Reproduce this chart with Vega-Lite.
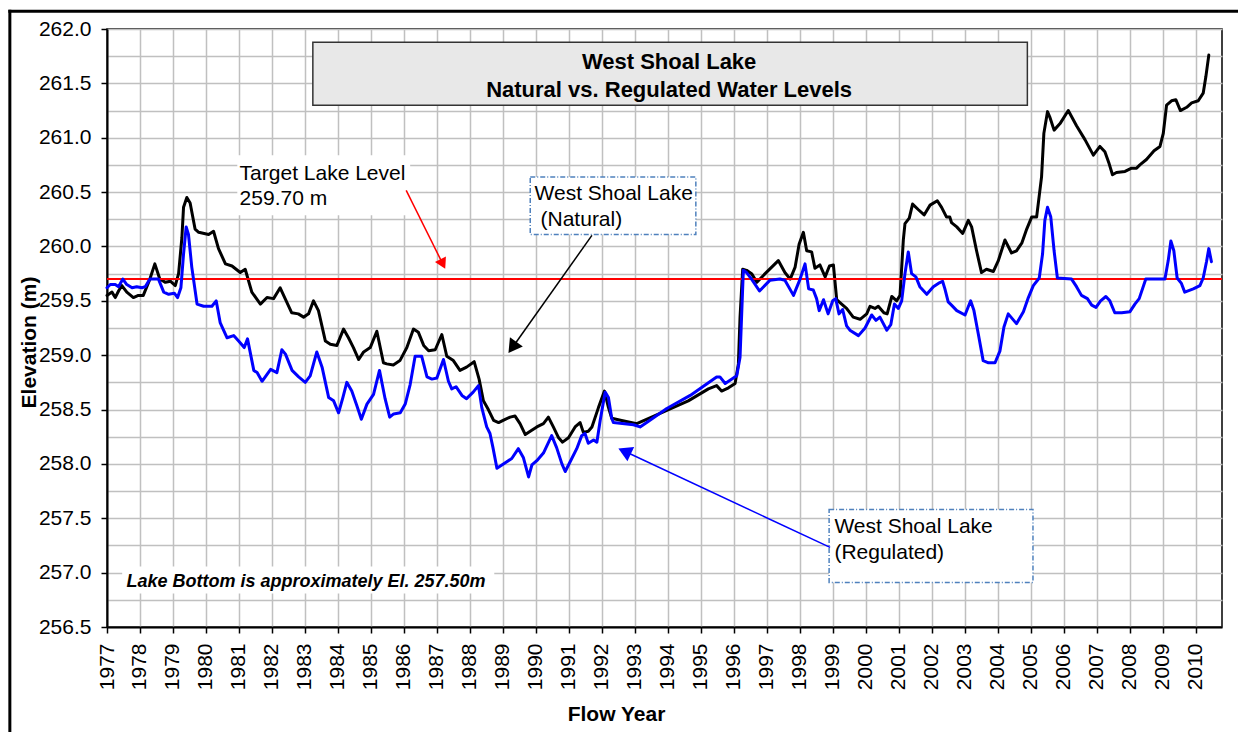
{
  "$schema": "https://vega.github.io/schema/vega-lite/v6.json",
  "width": 1115,
  "height": 598,
  "autosize": {"type": "none"},
  "padding": {"left": 107, "top": 29, "right": 16, "bottom": 105},
  "background": "white",
  "config": {"view": {"stroke": "#000000", "strokeWidth": 1.5}, "font": "Liberation Sans"},
  "datasets": {
    "natural": [
      {"year": 1977.00, "elev": 259.55}, {"year": 1977.15, "elev": 259.58}, {"year": 1977.25, "elev": 259.53}, {"year": 1977.35, "elev": 259.59},
      {"year": 1977.45, "elev": 259.64}, {"year": 1977.60, "elev": 259.58}, {"year": 1977.80, "elev": 259.53}, {"year": 1977.95, "elev": 259.55},
      {"year": 1978.10, "elev": 259.55}, {"year": 1978.30, "elev": 259.70}, {"year": 1978.45, "elev": 259.84}, {"year": 1978.60, "elev": 259.70},
      {"year": 1978.77, "elev": 259.67}, {"year": 1978.92, "elev": 259.68}, {"year": 1979.07, "elev": 259.64}, {"year": 1979.17, "elev": 259.75},
      {"year": 1979.27, "elev": 260.08}, {"year": 1979.32, "elev": 260.36}, {"year": 1979.42, "elev": 260.45}, {"year": 1979.52, "elev": 260.40},
      {"year": 1979.67, "elev": 260.16}, {"year": 1979.78, "elev": 260.13}, {"year": 1980.08, "elev": 260.11}, {"year": 1980.23, "elev": 260.14},
      {"year": 1980.38, "elev": 259.98}, {"year": 1980.59, "elev": 259.84}, {"year": 1980.79, "elev": 259.82}, {"year": 1981.04, "elev": 259.76},
      {"year": 1981.19, "elev": 259.79}, {"year": 1981.39, "elev": 259.58}, {"year": 1981.65, "elev": 259.47}, {"year": 1981.85, "elev": 259.53},
      {"year": 1982.05, "elev": 259.52}, {"year": 1982.25, "elev": 259.62}, {"year": 1982.40, "elev": 259.52}, {"year": 1982.60, "elev": 259.39},
      {"year": 1982.80, "elev": 259.38}, {"year": 1982.96, "elev": 259.35}, {"year": 1983.11, "elev": 259.38}, {"year": 1983.26, "elev": 259.50},
      {"year": 1983.41, "elev": 259.41}, {"year": 1983.62, "elev": 259.13}, {"year": 1983.77, "elev": 259.10}, {"year": 1983.97, "elev": 259.09},
      {"year": 1984.17, "elev": 259.24}, {"year": 1984.32, "elev": 259.16}, {"year": 1984.47, "elev": 259.07}, {"year": 1984.63, "elev": 258.96},
      {"year": 1984.78, "elev": 259.03}, {"year": 1984.98, "elev": 259.07}, {"year": 1985.18, "elev": 259.22}, {"year": 1985.38, "elev": 258.93},
      {"year": 1985.48, "elev": 258.92}, {"year": 1985.68, "elev": 258.91}, {"year": 1985.88, "elev": 258.95}, {"year": 1986.09, "elev": 259.07},
      {"year": 1986.29, "elev": 259.24}, {"year": 1986.44, "elev": 259.21}, {"year": 1986.60, "elev": 259.09}, {"year": 1986.75, "elev": 259.04},
      {"year": 1986.95, "elev": 259.05}, {"year": 1987.15, "elev": 259.19}, {"year": 1987.30, "elev": 258.99}, {"year": 1987.50, "elev": 258.95},
      {"year": 1987.70, "elev": 258.86}, {"year": 1987.90, "elev": 258.89}, {"year": 1988.13, "elev": 258.94}, {"year": 1988.28, "elev": 258.78},
      {"year": 1988.41, "elev": 258.58}, {"year": 1988.56, "elev": 258.50}, {"year": 1988.72, "elev": 258.40}, {"year": 1988.87, "elev": 258.38},
      {"year": 1989.07, "elev": 258.41}, {"year": 1989.22, "elev": 258.43}, {"year": 1989.37, "elev": 258.44}, {"year": 1989.52, "elev": 258.37},
      {"year": 1989.68, "elev": 258.27}, {"year": 1989.83, "elev": 258.30}, {"year": 1990.03, "elev": 258.34}, {"year": 1990.23, "elev": 258.37},
      {"year": 1990.38, "elev": 258.43}, {"year": 1990.53, "elev": 258.34}, {"year": 1990.69, "elev": 258.24}, {"year": 1990.81, "elev": 258.20},
      {"year": 1990.99, "elev": 258.24}, {"year": 1991.19, "elev": 258.34}, {"year": 1991.34, "elev": 258.38}, {"year": 1991.44, "elev": 258.29},
      {"year": 1991.59, "elev": 258.30}, {"year": 1991.70, "elev": 258.34}, {"year": 1991.90, "elev": 258.52}, {"year": 1992.08, "elev": 258.67},
      {"year": 1992.20, "elev": 258.52}, {"year": 1992.30, "elev": 258.42}, {"year": 1992.60, "elev": 258.40}, {"year": 1993.06, "elev": 258.37},
      {"year": 1993.51, "elev": 258.43}, {"year": 1994.02, "elev": 258.50}, {"year": 1994.62, "elev": 258.58}, {"year": 1995.23, "elev": 258.69},
      {"year": 1995.48, "elev": 258.72}, {"year": 1995.63, "elev": 258.67}, {"year": 1995.84, "elev": 258.70}, {"year": 1996.04, "elev": 258.74},
      {"year": 1996.14, "elev": 258.92}, {"year": 1996.19, "elev": 259.35}, {"year": 1996.27, "elev": 259.79}, {"year": 1996.39, "elev": 259.78},
      {"year": 1996.54, "elev": 259.75}, {"year": 1996.70, "elev": 259.67}, {"year": 1996.95, "elev": 259.75}, {"year": 1997.35, "elev": 259.87},
      {"year": 1997.55, "elev": 259.76}, {"year": 1997.71, "elev": 259.70}, {"year": 1997.86, "elev": 259.81}, {"year": 1997.98, "elev": 260.02},
      {"year": 1998.11, "elev": 260.13}, {"year": 1998.21, "elev": 259.96}, {"year": 1998.36, "elev": 259.95}, {"year": 1998.46, "elev": 259.80},
      {"year": 1998.61, "elev": 259.83}, {"year": 1998.77, "elev": 259.72}, {"year": 1998.90, "elev": 259.82}, {"year": 1999.02, "elev": 259.83},
      {"year": 1999.12, "elev": 259.51}, {"year": 1999.27, "elev": 259.47}, {"year": 1999.42, "elev": 259.43}, {"year": 1999.62, "elev": 259.35},
      {"year": 1999.83, "elev": 259.33}, {"year": 2000.03, "elev": 259.38}, {"year": 2000.13, "elev": 259.45}, {"year": 2000.28, "elev": 259.43},
      {"year": 2000.38, "elev": 259.45}, {"year": 2000.55, "elev": 259.39}, {"year": 2000.65, "elev": 259.38}, {"year": 2000.79, "elev": 259.54},
      {"year": 2000.94, "elev": 259.50}, {"year": 2001.04, "elev": 259.55}, {"year": 2001.14, "elev": 260.06}, {"year": 2001.19, "elev": 260.21},
      {"year": 2001.32, "elev": 260.26}, {"year": 2001.42, "elev": 260.39}, {"year": 2001.59, "elev": 260.34}, {"year": 2001.77, "elev": 260.29},
      {"year": 2001.95, "elev": 260.38}, {"year": 2002.17, "elev": 260.42}, {"year": 2002.30, "elev": 260.36}, {"year": 2002.45, "elev": 260.27},
      {"year": 2002.55, "elev": 260.27}, {"year": 2002.60, "elev": 260.22}, {"year": 2002.76, "elev": 260.18}, {"year": 2002.94, "elev": 260.12},
      {"year": 2003.11, "elev": 260.24}, {"year": 2003.21, "elev": 260.18}, {"year": 2003.36, "elev": 259.96}, {"year": 2003.51, "elev": 259.76},
      {"year": 2003.66, "elev": 259.79}, {"year": 2003.87, "elev": 259.77}, {"year": 2004.02, "elev": 259.87}, {"year": 2004.22, "elev": 260.06},
      {"year": 2004.42, "elev": 259.94}, {"year": 2004.57, "elev": 259.96}, {"year": 2004.73, "elev": 260.03}, {"year": 2004.88, "elev": 260.16},
      {"year": 2005.03, "elev": 260.27}, {"year": 2005.18, "elev": 260.27}, {"year": 2005.33, "elev": 260.64}, {"year": 2005.40, "elev": 261.04},
      {"year": 2005.51, "elev": 261.24}, {"year": 2005.58, "elev": 261.19}, {"year": 2005.71, "elev": 261.07}, {"year": 2005.89, "elev": 261.13},
      {"year": 2006.14, "elev": 261.25}, {"year": 2006.39, "elev": 261.11}, {"year": 2006.65, "elev": 260.98}, {"year": 2006.90, "elev": 260.84},
      {"year": 2007.10, "elev": 260.92}, {"year": 2007.25, "elev": 260.87}, {"year": 2007.38, "elev": 260.76}, {"year": 2007.48, "elev": 260.66},
      {"year": 2007.60, "elev": 260.68}, {"year": 2007.86, "elev": 260.69}, {"year": 2008.06, "elev": 260.72}, {"year": 2008.21, "elev": 260.72},
      {"year": 2008.31, "elev": 260.75}, {"year": 2008.51, "elev": 260.80}, {"year": 2008.74, "elev": 260.88}, {"year": 2008.92, "elev": 260.92},
      {"year": 2009.02, "elev": 261.04}, {"year": 2009.12, "elev": 261.30}, {"year": 2009.27, "elev": 261.34}, {"year": 2009.40, "elev": 261.35},
      {"year": 2009.54, "elev": 261.25}, {"year": 2009.73, "elev": 261.28}, {"year": 2009.88, "elev": 261.32}, {"year": 2010.08, "elev": 261.34},
      {"year": 2010.23, "elev": 261.41}, {"year": 2010.31, "elev": 261.56}, {"year": 2010.40, "elev": 261.76}
    ],
    "regulated": [
      {"year": 1977.00, "elev": 259.62}, {"year": 1977.10, "elev": 259.65}, {"year": 1977.25, "elev": 259.65}, {"year": 1977.35, "elev": 259.63},
      {"year": 1977.48, "elev": 259.70}, {"year": 1977.60, "elev": 259.65}, {"year": 1977.76, "elev": 259.62}, {"year": 1977.90, "elev": 259.63},
      {"year": 1978.06, "elev": 259.62}, {"year": 1978.16, "elev": 259.63}, {"year": 1978.30, "elev": 259.70}, {"year": 1978.56, "elev": 259.70},
      {"year": 1978.72, "elev": 259.58}, {"year": 1978.87, "elev": 259.56}, {"year": 1979.04, "elev": 259.57}, {"year": 1979.14, "elev": 259.53},
      {"year": 1979.24, "elev": 259.62}, {"year": 1979.32, "elev": 259.93}, {"year": 1979.40, "elev": 260.18}, {"year": 1979.47, "elev": 260.11},
      {"year": 1979.57, "elev": 259.81}, {"year": 1979.73, "elev": 259.47}, {"year": 1979.93, "elev": 259.45}, {"year": 1980.18, "elev": 259.45},
      {"year": 1980.31, "elev": 259.50}, {"year": 1980.43, "elev": 259.30}, {"year": 1980.64, "elev": 259.16}, {"year": 1980.84, "elev": 259.18},
      {"year": 1980.99, "elev": 259.13}, {"year": 1981.16, "elev": 259.07}, {"year": 1981.26, "elev": 259.15}, {"year": 1981.45, "elev": 258.86},
      {"year": 1981.55, "elev": 258.84}, {"year": 1981.70, "elev": 258.76}, {"year": 1981.96, "elev": 258.87}, {"year": 1982.15, "elev": 258.84},
      {"year": 1982.30, "elev": 259.05}, {"year": 1982.41, "elev": 259.01}, {"year": 1982.61, "elev": 258.86}, {"year": 1982.81, "elev": 258.80},
      {"year": 1983.01, "elev": 258.75}, {"year": 1983.16, "elev": 258.81}, {"year": 1983.36, "elev": 259.03}, {"year": 1983.52, "elev": 258.89},
      {"year": 1983.72, "elev": 258.61}, {"year": 1983.87, "elev": 258.58}, {"year": 1984.02, "elev": 258.47}, {"year": 1984.15, "elev": 258.61},
      {"year": 1984.27, "elev": 258.75}, {"year": 1984.42, "elev": 258.67}, {"year": 1984.57, "elev": 258.54}, {"year": 1984.71, "elev": 258.41},
      {"year": 1984.88, "elev": 258.55}, {"year": 1985.08, "elev": 258.64}, {"year": 1985.26, "elev": 258.86}, {"year": 1985.43, "elev": 258.60},
      {"year": 1985.57, "elev": 258.43}, {"year": 1985.69, "elev": 258.46}, {"year": 1985.89, "elev": 258.47}, {"year": 1986.04, "elev": 258.55},
      {"year": 1986.19, "elev": 258.73}, {"year": 1986.34, "elev": 258.99}, {"year": 1986.54, "elev": 258.99}, {"year": 1986.70, "elev": 258.80},
      {"year": 1986.85, "elev": 258.78}, {"year": 1987.00, "elev": 258.79}, {"year": 1987.20, "elev": 258.96}, {"year": 1987.35, "elev": 258.76},
      {"year": 1987.45, "elev": 258.69}, {"year": 1987.58, "elev": 258.71}, {"year": 1987.76, "elev": 258.63}, {"year": 1987.90, "elev": 258.60},
      {"year": 1988.10, "elev": 258.66}, {"year": 1988.26, "elev": 258.72}, {"year": 1988.36, "elev": 258.52}, {"year": 1988.51, "elev": 258.34},
      {"year": 1988.61, "elev": 258.28}, {"year": 1988.70, "elev": 258.15}, {"year": 1988.82, "elev": 257.96}, {"year": 1988.97, "elev": 257.99},
      {"year": 1989.12, "elev": 258.02}, {"year": 1989.27, "elev": 258.05}, {"year": 1989.47, "elev": 258.14}, {"year": 1989.62, "elev": 258.06},
      {"year": 1989.78, "elev": 257.88}, {"year": 1989.88, "elev": 257.99}, {"year": 1990.03, "elev": 258.03}, {"year": 1990.23, "elev": 258.10},
      {"year": 1990.48, "elev": 258.26}, {"year": 1990.63, "elev": 258.15}, {"year": 1990.79, "elev": 258.00}, {"year": 1990.89, "elev": 257.93},
      {"year": 1991.04, "elev": 258.02}, {"year": 1991.24, "elev": 258.14}, {"year": 1991.39, "elev": 258.26}, {"year": 1991.49, "elev": 258.28},
      {"year": 1991.59, "elev": 258.19}, {"year": 1991.75, "elev": 258.22}, {"year": 1991.85, "elev": 258.20}, {"year": 1991.95, "elev": 258.40},
      {"year": 1992.10, "elev": 258.66}, {"year": 1992.20, "elev": 258.61}, {"year": 1992.30, "elev": 258.42}, {"year": 1992.35, "elev": 258.38},
      {"year": 1992.96, "elev": 258.36}, {"year": 1993.16, "elev": 258.34}, {"year": 1993.36, "elev": 258.38}, {"year": 1993.97, "elev": 258.51},
      {"year": 1994.68, "elev": 258.63}, {"year": 1995.48, "elev": 258.80}, {"year": 1995.58, "elev": 258.80}, {"year": 1995.74, "elev": 258.74},
      {"year": 1996.09, "elev": 258.81}, {"year": 1996.19, "elev": 258.98}, {"year": 1996.29, "elev": 259.78}, {"year": 1996.39, "elev": 259.76},
      {"year": 1996.54, "elev": 259.70}, {"year": 1996.78, "elev": 259.59}, {"year": 1997.10, "elev": 259.69}, {"year": 1997.40, "elev": 259.70},
      {"year": 1997.55, "elev": 259.69}, {"year": 1997.81, "elev": 259.55}, {"year": 1998.01, "elev": 259.70}, {"year": 1998.16, "elev": 259.84},
      {"year": 1998.27, "elev": 259.61}, {"year": 1998.41, "elev": 259.60}, {"year": 1998.51, "elev": 259.52}, {"year": 1998.59, "elev": 259.41},
      {"year": 1998.72, "elev": 259.51}, {"year": 1998.86, "elev": 259.38}, {"year": 1999.00, "elev": 259.50}, {"year": 1999.09, "elev": 259.52},
      {"year": 1999.19, "elev": 259.38}, {"year": 1999.30, "elev": 259.42}, {"year": 1999.42, "elev": 259.27}, {"year": 1999.52, "elev": 259.23},
      {"year": 1999.78, "elev": 259.18}, {"year": 1999.98, "elev": 259.25}, {"year": 2000.18, "elev": 259.37}, {"year": 2000.31, "elev": 259.32},
      {"year": 2000.43, "elev": 259.35}, {"year": 2000.64, "elev": 259.23}, {"year": 2000.76, "elev": 259.28}, {"year": 2000.87, "elev": 259.47},
      {"year": 2000.99, "elev": 259.43}, {"year": 2001.09, "elev": 259.50}, {"year": 2001.19, "elev": 259.75}, {"year": 2001.29, "elev": 259.95},
      {"year": 2001.39, "elev": 259.75}, {"year": 2001.52, "elev": 259.72}, {"year": 2001.64, "elev": 259.63}, {"year": 2001.85, "elev": 259.56},
      {"year": 2002.05, "elev": 259.63}, {"year": 2002.20, "elev": 259.66}, {"year": 2002.33, "elev": 259.68}, {"year": 2002.40, "elev": 259.61},
      {"year": 2002.50, "elev": 259.49}, {"year": 2002.60, "elev": 259.46}, {"year": 2002.76, "elev": 259.41}, {"year": 2003.01, "elev": 259.37},
      {"year": 2003.18, "elev": 259.50}, {"year": 2003.28, "elev": 259.41}, {"year": 2003.41, "elev": 259.20}, {"year": 2003.56, "elev": 258.95},
      {"year": 2003.72, "elev": 258.93}, {"year": 2003.92, "elev": 258.93}, {"year": 2004.07, "elev": 259.04}, {"year": 2004.19, "elev": 259.26},
      {"year": 2004.32, "elev": 259.38}, {"year": 2004.57, "elev": 259.29}, {"year": 2004.78, "elev": 259.40}, {"year": 2004.93, "elev": 259.53},
      {"year": 2005.08, "elev": 259.64}, {"year": 2005.26, "elev": 259.71}, {"year": 2005.36, "elev": 259.93}, {"year": 2005.43, "elev": 260.24},
      {"year": 2005.51, "elev": 260.36}, {"year": 2005.61, "elev": 260.27}, {"year": 2005.71, "elev": 259.96}, {"year": 2005.81, "elev": 259.71},
      {"year": 2006.24, "elev": 259.70}, {"year": 2006.39, "elev": 259.63}, {"year": 2006.54, "elev": 259.55}, {"year": 2006.72, "elev": 259.52},
      {"year": 2006.85, "elev": 259.46}, {"year": 2006.98, "elev": 259.44}, {"year": 2007.12, "elev": 259.50}, {"year": 2007.28, "elev": 259.54},
      {"year": 2007.40, "elev": 259.50}, {"year": 2007.55, "elev": 259.39}, {"year": 2007.76, "elev": 259.39}, {"year": 2008.01, "elev": 259.40},
      {"year": 2008.16, "elev": 259.47}, {"year": 2008.29, "elev": 259.52}, {"year": 2008.49, "elev": 259.70}, {"year": 2009.07, "elev": 259.70},
      {"year": 2009.17, "elev": 259.87}, {"year": 2009.25, "elev": 260.05}, {"year": 2009.34, "elev": 259.96}, {"year": 2009.44, "elev": 259.71},
      {"year": 2009.57, "elev": 259.66}, {"year": 2009.67, "elev": 259.58}, {"year": 2009.93, "elev": 259.61}, {"year": 2010.13, "elev": 259.64},
      {"year": 2010.23, "elev": 259.71}, {"year": 2010.33, "elev": 259.86}, {"year": 2010.40, "elev": 259.98}, {"year": 2010.48, "elev": 259.86}
    ],
    "target": [{"level": 259.7}],
    "one": [{}]
  },
  "layer": [
    {
      "data": {"name": "natural"},
      "mark": {"type": "line", "color": "#000000", "strokeWidth": 3, "strokeJoin": "round", "strokeCap": "round"},
      "encoding": {
        "x": {"field": "year", "type": "quantitative", "scale": {"domain": [1977, 2010.8], "nice": false, "zero": false},
          "axis": {
            "title": "Flow Year",
            "values": [1977, 1978, 1979, 1980, 1981, 1982, 1983, 1984, 1985, 1986, 1987, 1988, 1989, 1990, 1991, 1992, 1993, 1994, 1995, 1996, 1997, 1998, 1999, 2000, 2001, 2002, 2003, 2004, 2005, 2006, 2007, 2008, 2009, 2010],
            "tickCount": 60,
            "format": "d",
            "labelAngle": 270,
            "labelFontSize": 21,
            "labelColor": "#000000",
            "labelPadding": 10,
            "labelOverlap": false,
            "labelBound": false,
            "labelFlush": false,
            "tickSize": 6,
            "tickWidth": 1.5,
            "tickColor": "#000000",
            "domainColor": "#000000",
            "domainWidth": 2,
            "grid": true,
            "gridColor": "#C0C0C0",
            "gridWidth": 1.5,
            "titleFontSize": 21,
            "titleFontWeight": "bold",
            "titleColor": "#000000",
            "titleX": 509,
            "titleY": 93,
            "titleBaseline": "alphabetic"
          }
        },
        "y": {"field": "elev", "type": "quantitative", "scale": {"domain": [256.5, 262], "nice": false, "zero": false},
          "axis": {
            "title": "Elevation (m)",
            "values": [256.5, 256.75, 257, 257.25, 257.5, 257.75, 258, 258.25, 258.5, 258.75, 259, 259.25, 259.5, 259.75, 260, 260.25, 260.5, 260.75, 261, 261.25, 261.5, 261.75, 262],
            "tickCount": 60,
            "labelExpr": "datum.value % 0.5 == 0 ? format(datum.value, '.1f') : ''",
            "labelFontSize": 21,
            "labelColor": "#000000",
            "labelPadding": 10,
            "labelOverlap": false,
            "labelBound": false,
            "labelFlush": false,
            "tickSize": 6,
            "tickWidth": 1.5,
            "tickColor": "#000000",
            "tickOpacity": {"condition": {"test": "datum.value % 0.5 == 0", "value": 1}, "value": 0},
            "domainColor": "#000000",
            "domainWidth": 2,
            "grid": true,
            "gridColor": "#C0C0C0",
            "gridWidth": 1.5,
            "titleFontSize": 21,
            "titleFontWeight": "bold",
            "titleColor": "#000000",
            "titleX": -72,
            "titleY": 313,
            "titleBaseline": "alphabetic"
          }
        }
      }
    },
    {
      "data": {"name": "one"},
      "mark": {"type": "rule", "color": "#000000", "strokeWidth": 3, "strokeCap": "square"},
      "encoding": {
        "x": {"datum": 1974.055},
        "x2": {"datum": 2011.5},
        "y": {"datum": 262.163}
      }
    },
    {
      "data": {"name": "one"},
      "mark": {"type": "rule", "color": "#000000", "strokeWidth": 3, "strokeCap": "square"},
      "encoding": {
        "x": {"datum": 1974.055},
        "y": {"datum": 262.163},
        "y2": {"datum": 255.4}
      }
    },
    {
      "data": {"name": "one"},
      "mark": {"type": "rect", "fill": "#FFFFFF"},
      "encoding": {
        "x": {"datum": 1980.95},
        "x2": {"datum": 1986.19},
        "y": {"datum": 260.838},
        "y2": {"datum": 260.286}
      }
    },
    {
      "data": {"name": "one"},
      "mark": {"type": "rect", "fill": "#FFFFFF"},
      "encoding": {
        "x": {"datum": 1977.46},
        "x2": {"datum": 1988.74},
        "y": {"datum": 257.057},
        "y2": {"datum": 256.809}
      }
    },
    {
      "data": {"name": "one"},
      "mark": {"type": "rect", "fill": "#E8E8E8", "stroke": "#333333", "strokeWidth": 1.5},
      "encoding": {
        "x": {"datum": 1983.24},
        "x2": {"datum": 2004.9},
        "y": {"datum": 261.878},
        "y2": {"datum": 261.298}
      }
    },
    {
      "data": {"name": "target"},
      "mark": {"type": "rule", "color": "#FF0000", "strokeWidth": 2},
      "encoding": {
        "y": {"field": "level", "type": "quantitative"}
      }
    },
    {
      "data": {"name": "regulated"},
      "mark": {"type": "line", "color": "#0000FF", "strokeWidth": 3, "strokeJoin": "round", "strokeCap": "round"},
      "encoding": {
        "x": {"field": "year", "type": "quantitative"},
        "y": {"field": "elev", "type": "quantitative"}
      }
    },
    {
      "data": {"name": "one"},
      "mark": {"type": "rect", "fill": "#FFFFFF", "stroke": "#4F81BD", "strokeWidth": 1.5, "strokeDash": [5, 2, 1, 2]},
      "encoding": {
        "x": {"datum": 1989.83},
        "x2": {"datum": 1994.85},
        "y": {"datum": 260.638},
        "y2": {"datum": 260.111}
      }
    },
    {
      "data": {"name": "one"},
      "mark": {"type": "rect", "fill": "#FFFFFF", "stroke": "#4F81BD", "strokeWidth": 1.5, "strokeDash": [5, 2, 1, 2]},
      "encoding": {
        "x": {"datum": 1998.89},
        "x2": {"datum": 2005.07},
        "y": {"datum": 257.581},
        "y2": {"datum": 256.910}
      }
    },
    {
      "data": {"name": "one"},
      "mark": {"type": "text", "text": ["West Shoal Lake", "Natural vs. Regulated Water Levels"], "align": "center", "baseline": "alphabetic", "fontSize": 22, "fontWeight": "bold", "lineHeight": 28.4, "color": "#000000"},
      "encoding": {
        "x": {"datum": 1994.04},
        "y": {"datum": 261.636}
      }
    },
    {
      "data": {"name": "one"},
      "mark": {"type": "text", "text": ["Target Lake Level", "259.70 m"], "align": "left", "baseline": "alphabetic", "fontSize": 21, "lineHeight": 25.7, "color": "#000000"},
      "encoding": {
        "x": {"datum": 1981.02},
        "y": {"datum": 260.615}
      }
    },
    {
      "data": {"name": "one"},
      "mark": {"type": "text", "text": "West Shoal Lake", "align": "left", "baseline": "alphabetic", "fontSize": 21, "color": "#000000"},
      "encoding": {
        "x": {"datum": 1989.96},
        "y": {"datum": 260.431}
      }
    },
    {
      "data": {"name": "one"},
      "mark": {"type": "text", "text": "(Natural)", "align": "left", "baseline": "alphabetic", "fontSize": 21, "dx": 6, "color": "#000000"},
      "encoding": {
        "x": {"datum": 1989.96},
        "y": {"datum": 260.185}
      }
    },
    {
      "data": {"name": "one"},
      "mark": {"type": "text", "text": ["West Shoal Lake", "(Regulated)"], "align": "left", "baseline": "alphabetic", "fontSize": 21, "lineHeight": 25.6, "color": "#000000"},
      "encoding": {
        "x": {"datum": 1999.05},
        "y": {"datum": 257.363}
      }
    },
    {
      "data": {"name": "one"},
      "mark": {"type": "text", "text": "Lake Bottom is approximately El. 257.50m", "align": "left", "baseline": "alphabetic", "fontSize": 18, "fontWeight": "bold", "fontStyle": "italic", "color": "#000000"},
      "encoding": {
        "x": {"datum": 1977.59},
        "y": {"datum": 256.867}
      }
    },
    {
      "data": {"name": "one"},
      "mark": {"type": "rule", "color": "#FF0000", "strokeWidth": 1.5},
      "encoding": {
        "x": {"datum": 1986.07},
        "y": {"datum": 260.516},
        "x2": {"datum": 1987.18},
        "y2": {"datum": 259.839}
      }
    },
    {
      "data": {"name": "one"},
      "mark": {"type": "point", "shape": "triangle-up", "filled": true, "size": 150, "angle": 153.5, "color": "#FF0000", "opacity": 1},
      "encoding": {
        "x": {"datum": 1987.18},
        "y": {"datum": 259.839}
      }
    },
    {
      "data": {"name": "one"},
      "mark": {"type": "rule", "color": "#000000", "strokeWidth": 1.5},
      "encoding": {
        "x": {"datum": 1991.70},
        "y": {"datum": 260.102},
        "x2": {"datum": 1989.29},
        "y2": {"datum": 259.071}
      }
    },
    {
      "data": {"name": "one"},
      "mark": {"type": "point", "shape": "triangle-up", "filled": true, "size": 250, "angle": 215.3, "color": "#000000", "opacity": 1},
      "encoding": {
        "x": {"datum": 1989.29},
        "y": {"datum": 259.071}
      }
    },
    {
      "data": {"name": "one"},
      "mark": {"type": "rule", "color": "#0000FF", "strokeWidth": 1.5},
      "encoding": {
        "x": {"datum": 1998.92},
        "y": {"datum": 257.232},
        "x2": {"datum": 1992.69},
        "y2": {"datum": 258.116}
      }
    },
    {
      "data": {"name": "one"},
      "mark": {"type": "point", "shape": "triangle-up", "filled": true, "size": 250, "angle": 295.1, "color": "#0000FF", "opacity": 1},
      "encoding": {
        "x": {"datum": 1992.69},
        "y": {"datum": 258.116}
      }
    }
  ]
}
